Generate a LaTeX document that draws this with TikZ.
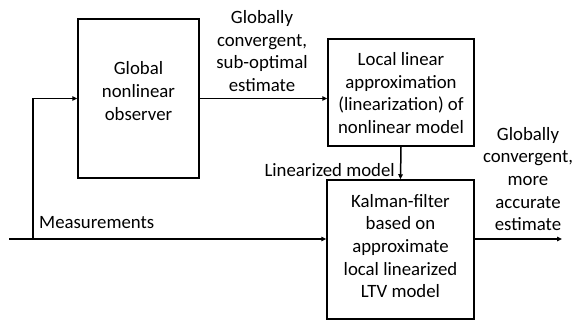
\documentclass[tikz,border=0pt]{standalone}
\usepackage{fontspec}
\setmainfont{Carlito}
\usetikzlibrary{arrows.meta}
\begin{document}
\begin{tikzpicture}[x=1pt,y=-1pt,
  box/.style={draw, line width=1.5pt, inner sep=0pt},
  lbl/.style={align=center, inner sep=0pt, font=\fontsize{18.8}{22.7}\selectfont},
  wire/.style={line width=1.5pt},
  arr/.style={wire, -{Triangle[length=5pt,width=4.5pt]}}]
\useasboundingbox (0,0) rectangle (581,320);
% boxes
\node[box, minimum width=121pt, minimum height=159pt] (obs) at (138.5,98.5) {};
\node[lbl] (obstext) at (138.5,91) {Global\\nonlinear\\observer};
\node[box, minimum width=146pt, minimum height=107pt] (loc) at (401,92.5) {};
\node[lbl] (loctext) at (401,93) {Local linear\\approximation\\(linearization) of\\nonlinear model};
\node[box, minimum width=147pt, minimum height=139pt] (kal) at (400.5,249.5) {};
\node[lbl] (kaltext) at (400.5,246) {Kalman-filter\\based on\\approximate\\local linearized\\LTV model};
% labels
\node[lbl] (est1) at (262,51) {Globally\\convergent,\\sub-optimal\\estimate};
\node[lbl, anchor=east] (linlbl) at (395,170) {Linearized model};
\node[lbl, anchor=west] (meas) at (39,223) {Measurements};
\node[lbl] (est2) at (528,179) {Globally\\convergent,\\more\\accurate\\estimate};
% connectors
\coordinate (min) at (9,239);
\coordinate (br) at (33,239);
\coordinate (out) at (562,239);
\draw[arr] (min) -- (kal.west |- min);
\draw[arr] (br) |- (obs.west);
\draw[arr] (obs.east) -- (loc.west |- obs.east);
\draw[arr] (loc.south) -- (kal.north);
\draw[arr] (kal.east |- out) -- (out);
\end{tikzpicture}
\end{document}
